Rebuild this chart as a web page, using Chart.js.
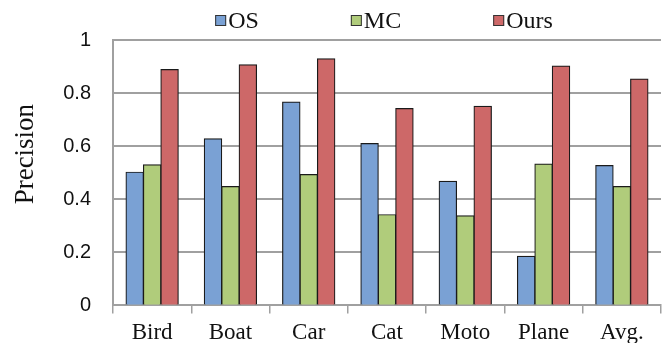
<!DOCTYPE html>
<html>
<head>
<meta charset="utf-8">
<script src="https://cdn.jsdelivr.net/npm/chart.js@4.4.1/dist/chart.umd.min.js"></script>
<style>
  html, body { margin: 0; padding: 0; background: #fff; }
  #wrap { width: 667px; height: 343px; }
</style>
</head>
<body>
<div id="wrap"><canvas id="precChart"></canvas></div>
<script>
// values
const categories = ["Bird", "Boat", "Car", "Cat", "Moto", "Plane", "Avg."];
const osValues = [0.502, 0.628, 0.766, 0.61, 0.468, 0.185, 0.527];
const mcValues = [0.53, 0.448, 0.493, 0.342, 0.338, 0.533, 0.448];
const oursValues = [0.889, 0.907, 0.929, 0.742, 0.75, 0.902, 0.853];
const yTicks = [0, 0.2, 0.4, 0.6, 0.8, 1];
const yTickLabels = ["0", "0.2", "0.4", "0.6", "0.8", "1"];

const gridGray = "#a0a0a0";
const serif = "'Liberation Serif', 'Times New Roman', serif";

// legend drawn by hand so the items sit centred over the plot like the original
const topLegend = {
  id: "topLegend",
  afterDraw(chart) {
    const ctx = chart.ctx;
    const area = chart.chartArea;
    const box = 11, gapText = 2, gapItem = 92;
    ctx.save();
    ctx.font = "24px " + serif;
    const items = chart.data.datasets.map((ds) => ({
      label: ds.label,
      color: ds.backgroundColor,
      w: box + gapText + ctx.measureText(ds.label).width,
    }));
    const total = items.reduce((s, it) => s + it.w, 0) + gapItem * (items.length - 1);
    let x = (area.left + area.right) / 2 - total / 2 - 3;
    const baseY = 28;
    items.forEach((it) => {
      ctx.fillStyle = it.color;
      ctx.fillRect(x, baseY - 13, box, box);
      ctx.strokeStyle = "#333";
      ctx.lineWidth = 1;
      ctx.strokeRect(x + 0.5, baseY - 12.5, box - 1, box - 1);
      ctx.fillStyle = "#111";
      ctx.textBaseline = "alphabetic";
      ctx.textAlign = "left";
      ctx.fillText(it.label, x + box + gapText, baseY);
      x += it.w + gapItem;
    });
    ctx.restore();
  },
};

// y title, sitting a little above the middle of the axis as in the figure
const yTitle = {
  id: "yTitle",
  afterDraw(chart) {
    const ctx = chart.ctx;
    const area = chart.chartArea;
    ctx.save();
    ctx.translate(26, area.top + (area.bottom - area.top) * 0.43);
    ctx.rotate(-Math.PI / 2);
    ctx.font = "27px " + serif;
    ctx.fillStyle = "#111";
    ctx.textAlign = "center";
    ctx.textBaseline = "middle";
    ctx.fillText("Precision", 0, 0);
    ctx.restore();
  },
};

const barStyle = {
  categoryPercentage: 0.668,
  barPercentage: 1.0,
  borderColor: "#1a1a1a",
  borderWidth: 1.2,
  inflateAmount: 0.5, // close the hairline seam between touching bars
};

const ctx = document.getElementById("precChart");

new Chart(ctx, {
  type: "bar",
  data: {
    labels: categories,
    datasets: [
      { label: "OS", data: osValues, backgroundColor: "#7aa1d4", ...barStyle },
      { label: "MC", data: mcValues, backgroundColor: "#b0cc7b", ...barStyle },
      { label: "Ours", data: oursValues, backgroundColor: "#cd6868", ...barStyle },
    ],
  },
  options: {
    responsive: true,
    maintainAspectRatio: false,
    animation: false,
    layout: { padding: { top: 40, right: 6, left: 0, bottom: -10 } },
    plugins: {
      legend: { display: false },
      tooltip: { enabled: false },
    },
    scales: {
      x: {
        grid: {
          display: true,
          drawOnChartArea: false,
          drawTicks: true,
          tickLength: 8,
          color: gridGray,
          lineWidth: 1.5,
        },
        border: { color: gridGray, width: 2 },
        ticks: {
          color: "#111",
          padding: 6,
          font: { family: serif, size: 23 },
          maxRotation: 0,
        },
      },
      y: {
        min: 0,
        max: 1,
        afterBuildTicks: (scale) => {
          scale.ticks = yTicks.map((v) => ({ value: v }));
        },
        afterFit: (scale) => {
          scale.width = 113;
        },
        grid: {
          color: gridGray,
          lineWidth: 2,
          drawTicks: false,
        },
        border: { color: gridGray, width: 2 },
        ticks: {
          color: "#111",
          padding: 22,
          font: { family: "'Liberation Sans', Arial, sans-serif", size: 20 },
          callback: (value) => yTickLabels[yTicks.indexOf(value)],
        },
      },
    },
  },
  plugins: [topLegend, yTitle],
});
</script>
</body>
</html>
